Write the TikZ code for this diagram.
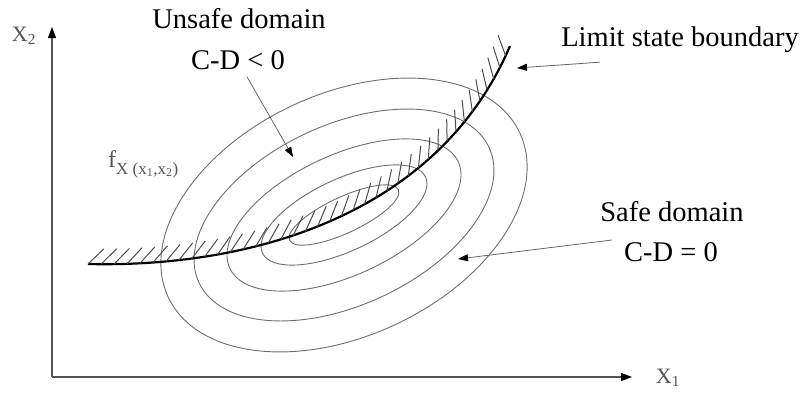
\documentclass[tikz,border=0pt]{standalone}
\usepackage{fontspec}
\setmainfont{Liberation Serif}
\usepackage{xcolor}
\usetikzlibrary{arrows.meta}
\usetikzlibrary{positioning}
\usetikzlibrary{decorations.markings}
\definecolor{cinzaeixo}{HTML}{555555}
\definecolor{cinzanivel}{HTML}{6E6E6E}
\tikzset{
  rotulo/.style={font=\fontsize{28.5}{32}\selectfont, inner sep=1pt},
  rotuloeixo/.style={font=\fontsize{22}{26}\selectfont, text=cinzaeixo, inner sep=1pt},
  eixo/.style={draw=cinzaeixo, line width=1.3pt, -{Triangle[length=11pt,width=8pt,color=black]}},
  seta/.style={draw=gray!80!black, line width=0.8pt, -{Triangle[length=10pt,width=7pt,color=black]}},
  nivel/.style={draw=cinzanivel, line width=0.9pt},
  fronteira/.style={draw=black, line width=2.2pt},
  traco/.style={draw=black!70, line width=1pt},
  hachura/.style={postaction={decorate, decoration={markings,
    mark=between positions 0 and 1 step 13pt with {\draw[traco] (0pt,0pt) -- (45:22pt);}}}},
}
\begin{document}
\begin{tikzpicture}[x=1pt,y=-1pt]
  \useasboundingbox (0,0) rectangle (804,394);
  % eixos
  \coordinate (o) at (52,377);
  \coordinate (topo) at (52,27);
  \coordinate (fimx) at (632,377);
  \draw[eixo] (o) -- (topo);
  \draw[eixo] (o) -- (fimx);
  \node[rotuloeixo] (nx2) at (24,36) {X\textsubscript{2}};
  \node[rotuloeixo] (nx1) at (668,378) {X\textsubscript{1}};
  % curvas de nivel
  \coordinate (c) at (344,215);
  \foreach \ra/\rb in {194/121, 160/90, 126/60, 90/36, 60/18}
    \draw[nivel, rotate around={25:(c)}] (c) ellipse [x radius=\ra pt, y radius=\rb pt];
  \node[rotuloeixo, font=\fontsize{24}{26}\selectfont, anchor=base west] (nf) at (107,167)
    {f{\fontsize{17}{18}\selectfont\raisebox{-7pt}{X (x\textsubscript{1},x\textsubscript{2})}}};
  % fronteira
  \coordinate (ini) at (88,264);
  \coordinate (fim) at (510,46);
  \draw[fronteira, hachura] (ini) .. controls (260,268) and (440,210) .. (fim);
  % rotulos e setas
  \node[rotulo] (nu) at (239,19) {Unsafe domain};
  \node[rotulo] (nuc) at (238,60) {C-D < 0};
  \coordinate (pu) at (293,157);
  \draw[seta] ([xshift=9pt,yshift=-6pt]nuc.south) -- (pu);
  \node[rotulo] (nl) at (680,40) {Limit state boundary};
  \coordinate (pl) at (517,68);
  \draw[seta] ([xshift=40pt,yshift=-8pt]nl.south west) -- (pl);
  \node[rotulo] (ns) at (672,212) {Safe domain};
  \node[rotulo] (nsc) at (671,252) {C-D = 0};
  \coordinate (ps) at (458,259);
  \draw[seta] ([xshift=-11pt,yshift=12pt]nsc.west) -- (ps);
\end{tikzpicture}
\end{document}
